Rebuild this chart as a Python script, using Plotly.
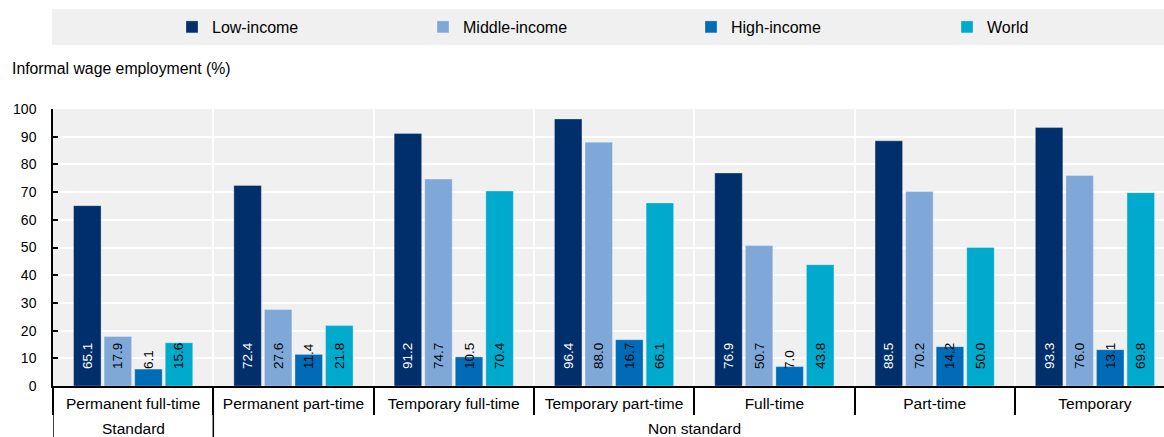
import plotly.graph_objects as go

categories = ["Permanent full-time", "Permanent part-time", "Temporary full-time",
              "Temporary part-time", "Full-time", "Part-time", "Temporary"]
groups = ["Standard", "Non standard"]
series_names = ["Low-income", "Middle-income", "High-income", "World"]
low_income = [65.1, 72.4, 91.2, 96.4, 76.9, 88.5, 93.3]
middle_income = [17.9, 27.6, 74.7, 88.0, 50.7, 70.2, 76.0]
high_income = [6.1, 11.4, 10.5, 16.7, 7.0, 14.2, 13.1]
world = [15.6, 21.8, 70.4, 66.1, 43.8, 50.0, 69.8]
y_ticks = list(range(0, 101, 10))

colors = ["#002F6C", "#7FA8D9", "#006BB6", "#00AACC"]
label_colors = ["white", "black", "black", "black"]
legend_widths = [206, 223, 211, 60]
FONT = "Liberation Sans, Arial, sans-serif"

W, H = 1164, 437
ML, MR, MT, MB = 53, 0, 109, 51
plot_w = W - ML - MR
plot_h = H - MT - MB
cat_px = 160.3

fig = go.Figure()
for name, vals, col, lc, lw in zip(series_names, [low_income, middle_income, high_income, world],
                                   colors, label_colors, legend_widths):
    fig.add_trace(go.Bar(
        name=name, x=categories, y=vals,
        marker=dict(color=col, line=dict(color="rgba(255,255,255,0.6)", width=0.5)),
        text=["\u00a0\u00a0\u00a0\u2009" + f"{v:.1f}" for v in vals],
        textposition="inside", insidetextanchor="start", textangle=-90,
        constraintext="none",
        insidetextfont=dict(color=lc, size=13.5, family=FONT),
        legendwidth=lw,
        hoverinfo="x+y+name",
    ))

fig.update_layout(
    width=W, height=H,
    margin=dict(l=ML, r=MR, t=MT, b=MB, pad=0, autoexpand=False),
    paper_bgcolor="white", plot_bgcolor="#F0F0F0",
    barmode="group", bargap=0.2375, bargroupgap=0.1,
    font=dict(family=FONT, size=16, color="black"),
    showlegend=True,
    legend=dict(orientation="h", x=(172 - ML) / plot_w, xanchor="left",
                y=(MT + plot_h - 27) / plot_h, yanchor="middle",
                bgcolor="rgba(0,0,0,0)", itemwidth=30,
                font=dict(size=16, family=FONT), traceorder="normal"),
)

fig.update_xaxes(
    range=[-0.5, -0.5 + plot_w / cat_px],
    tickson="boundaries", ticks="outside", ticklen=27, tickwidth=1.5, tickcolor="black",
    showgrid=True, gridcolor="white", gridwidth=2,
    showline=True, linecolor="black", linewidth=2,
    tickangle=0, automargin=False,
    tickfont=dict(size=15.5, family=FONT), ticklabelstandoff=2,
    fixedrange=True,
)
fig.update_yaxes(
    range=[0, 100], tickvals=y_ticks,
    ticks="inside", ticklen=5, tickwidth=1.5, tickcolor="black",
    showgrid=True, gridcolor="white", gridwidth=2, zeroline=False,
    showline=True, linecolor="black", linewidth=1.5,
    automargin=False,
    tickfont=dict(size=14, family=FONT), ticklabelstandoff=12,
    fixedrange=True,
)

# legend band
fig.add_shape(type="rect", xref="paper", yref="paper",
              x0=(52 - ML) / plot_w, x1=1.02,
              y0=(MT + plot_h - 45) / plot_h, y1=(MT + plot_h - 9) / plot_h,
              fillcolor="#F0F0F0", line=dict(width=0), layer="below")

# group dividers extending below axis
for xv in [-0.5, 0.5]:
    fig.add_shape(type="line", xref="x", yref="paper", x0=xv, x1=xv,
                  y0=0, y1=-MB / plot_h, line=dict(color="black", width=1.5))

# group labels
fig.add_annotation(x=0, y=-42 / plot_h, xref="x", yref="paper", text=groups[0],
                   showarrow=False, yanchor="middle", font=dict(size=15.5, family=FONT))
fig.add_annotation(x=3.5, y=-42 / plot_h, xref="x", yref="paper", text=groups[1],
                   showarrow=False, yanchor="middle", font=dict(size=15.5, family=FONT))

# y-axis title
fig.add_annotation(x=(10 - ML) / plot_w, y=(MT + plot_h - 69) / plot_h, xref="paper", yref="paper",
                   text="Informal wage employment (%)", showarrow=False,
                   xanchor="left", yanchor="middle", font=dict(size=15.8, family=FONT))

fig.write_html("out.html", config={"displayModeBar": False},
               post_script="document.body.style.margin='0';")
